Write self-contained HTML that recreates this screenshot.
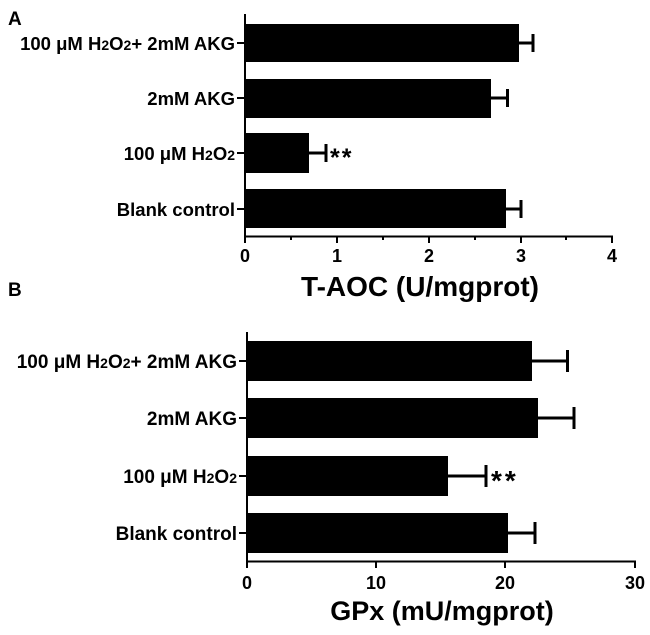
<!DOCTYPE html>
<html><head><style>
body{margin:0;background:#fff}
svg text{font-family:"Liberation Sans",Arial,sans-serif;font-weight:bold;fill:#000}
</style></head><body>
<svg width="650" height="630" viewBox="0 0 650 630" xmlns="http://www.w3.org/2000/svg">
<g stroke="#000" stroke-width="2" fill="none">
<line x1="245" y1="14" x2="245" y2="237"/>
<line x1="244" y1="236.5" x2="613" y2="236.5"/>
<line x1="245" y1="237" x2="245" y2="243"/>
<line x1="337" y1="237" x2="337" y2="243"/>
<line x1="429" y1="237" x2="429" y2="243"/>
<line x1="521" y1="237" x2="521" y2="243"/>
<line x1="612" y1="237" x2="612" y2="243"/>
<line x1="291" y1="237" x2="291" y2="240"/>
<line x1="383" y1="237" x2="383" y2="240"/>
<line x1="475" y1="237" x2="475" y2="240"/>
<line x1="566" y1="237" x2="566" y2="240"/>
<line x1="237" y1="43" x2="245" y2="43"/>
<line x1="237" y1="98" x2="245" y2="98"/>
<line x1="237" y1="153" x2="245" y2="153"/>
<line x1="237" y1="209" x2="245" y2="209"/>
<line x1="247" y1="332" x2="247" y2="562"/>
<line x1="246" y1="561.5" x2="636" y2="561.5"/>
<line x1="247" y1="562" x2="247" y2="568"/>
<line x1="376" y1="562" x2="376" y2="568"/>
<line x1="505" y1="562" x2="505" y2="568"/>
<line x1="635" y1="562" x2="635" y2="568"/>
<line x1="239" y1="361" x2="247" y2="361"/>
<line x1="239" y1="418" x2="247" y2="418"/>
<line x1="239" y1="476" x2="247" y2="476"/>
<line x1="239" y1="533" x2="247" y2="533"/>
</g>
<g stroke="#000" stroke-width="3" fill="none">
<line x1="519" y1="43" x2="533" y2="43"/><line x1="533" y1="34" x2="533" y2="52"/>
<line x1="491" y1="98" x2="507.5" y2="98"/><line x1="507.5" y1="89" x2="507.5" y2="107"/>
<line x1="309" y1="153" x2="326" y2="153"/><line x1="326" y1="144" x2="326" y2="162"/>
<line x1="506" y1="209" x2="521" y2="209"/><line x1="521" y1="200" x2="521" y2="218"/>
<line x1="532" y1="361" x2="567.5" y2="361"/><line x1="567.5" y1="350" x2="567.5" y2="372"/>
<line x1="538" y1="418" x2="574" y2="418"/><line x1="574" y1="407" x2="574" y2="429"/>
<line x1="448" y1="476" x2="486" y2="476"/><line x1="486" y1="465" x2="486" y2="487"/>
<line x1="508" y1="533" x2="535" y2="533"/><line x1="535" y1="522" x2="535" y2="544"/>
</g>
<g fill="#000">
<rect x="245" y="24" width="274" height="38"/>
<rect x="245" y="79" width="246" height="39"/>
<rect x="245" y="133" width="64" height="40"/>
<rect x="245" y="189" width="261" height="39"/>
<rect x="247" y="341" width="285" height="40"/>
<rect x="247" y="398" width="291" height="40"/>
<rect x="247" y="456" width="201" height="40"/>
<rect x="247" y="513" width="261" height="40"/>
</g>
<g font-size="18.5" text-anchor="end">
<text x="235" y="50">100 μM H<tspan font-size="14">2</tspan>O<tspan font-size="14">2</tspan>+ 2mM AKG</text>
<text x="235" y="105">2mM AKG</text>
<text x="235" y="160">100 μM H<tspan font-size="14">2</tspan>O<tspan font-size="14">2</tspan></text>
<text x="235" y="216">Blank control</text>
</g>
<g font-size="19" text-anchor="end">
<text x="237" y="368">100 μM H<tspan font-size="14">2</tspan>O<tspan font-size="14">2</tspan>+ 2mM AKG</text>
<text x="237" y="425">2mM AKG</text>
<text x="237" y="483">100 μM H<tspan font-size="14">2</tspan>O<tspan font-size="14">2</tspan></text>
<text x="237" y="540">Blank control</text>
</g>
<g font-size="18" text-anchor="middle">
<text x="245" y="262">0</text><text x="337" y="262">1</text><text x="429" y="262">2</text><text x="521" y="262">3</text><text x="612" y="262">4</text>
<text x="247" y="589">0</text><text x="376" y="589">10</text><text x="505" y="589">20</text><text x="635" y="589">30</text>
</g>
<text x="330" y="166" font-size="25" letter-spacing="2">**</text>
<text x="491" y="490" font-size="28" letter-spacing="3">**</text>
<text x="420" y="296" font-size="28" text-anchor="middle">T-AOC (U/mgprot)</text>
<text x="442" y="620" font-size="27" text-anchor="middle">GPx (mU/mgprot)</text>
<text x="8" y="25" font-size="19">A</text>
<text x="8" y="296" font-size="19">B</text>
</svg>
</body></html>
